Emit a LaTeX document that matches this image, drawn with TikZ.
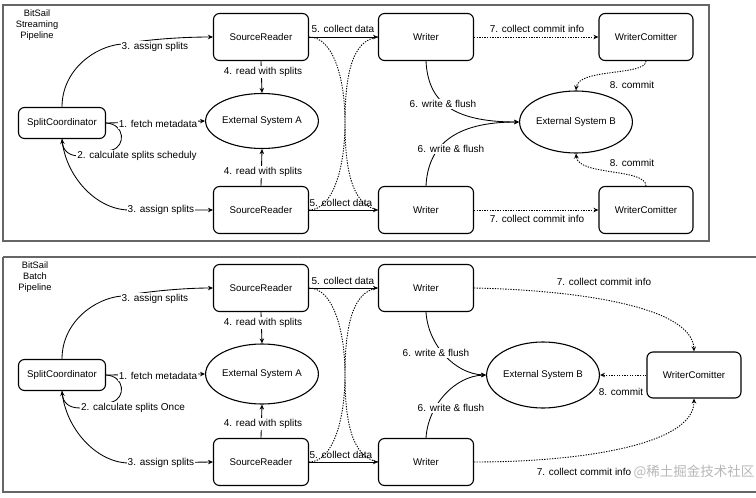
\documentclass[tikz,border=0pt]{standalone}
\usepackage{fontspec}
\setmainfont{Liberation Sans}
\newfontfamily\cjkfont{Noto Sans CJK SC}
\usetikzlibrary{arrows.meta,shapes.geometric}
\begin{document}
\begin{tikzpicture}[x=1pt,y=-1pt,
 box/.style={draw, rounded corners=6pt, line width=1.1pt, minimum width=95pt, minimum height=47pt, inner sep=0pt, font=\fontsize{9.7}{11}\selectfont},
 ell/.style={draw, ellipse, line width=1.1pt, inner sep=0pt, font=\fontsize{9.7}{11}\selectfont},
 lbl/.style={fill=white, inner sep=1pt, font=\fontsize{10}{11}\selectfont},
 ttl/.style={align=center, inner sep=0pt, font=\fontsize{9.3}{11}\selectfont},
 arr/.style={line width=0.85pt, -{Stealth[length=5pt,width=4.5pt]}},
 dotl/.style={line width=0.9pt, dash pattern=on 1.3pt off 1.3pt},
 darr/.style={dotl, -{Stealth[length=5pt,width=4.5pt,open]}},
 frame/.style={draw=black!60, line width=1.3pt},
]
\useasboundingbox (0,0) rectangle (756,498);
\fill[white] (0,0) rectangle (756,498);

% ================= top panel =================
\draw[frame] (3,5) rectangle (709,241);
\node[ttl] (t1) at (37,25) {BitSail\\Streaming\\Pipeline};

\node[box] (sr1) at (261,37) {SourceReader};
\node[box] (wr1) at (426,37) {Writer};
\node[box, minimum width=94pt] (wc1) at (646,37) {WriterComitter};
\node[box, minimum width=87pt, minimum height=31pt] (sc1) at (62,123) {SplitCoordinator};
\node[ell, minimum width=97pt, minimum height=55pt] (exa1) at (262,121) {External System A};
\node[ell, minimum width=98pt, minimum height=62pt] (exb1) at (576,122) {External System B};
\node[box] (sr2) at (261,210) {SourceReader};
\node[box] (wr2) at (426,210) {Writer};
\node[box, minimum width=94pt] (wc2) at (646,210) {WriterComitter};

\draw[arr] (sc1.east) -- (exa1.west);
\draw[arr] (sc1.east) .. controls (125,124) and (126,146) .. (112,150) -- (80,156) .. controls (68,156) and (63,150) .. (sc1.south);
\draw[arr] (sc1.north) .. controls (62,70) and (95,46) .. (122,44) .. controls (150,39) and (185,37) .. (sr1.west);
\draw[arr] (sc1.south) .. controls (65,175) and (95,209) .. (128,210) -- (sr2.west);
\draw[arr] (sr1.south) -- (exa1.north);
\draw[arr] (sr2.north) -- (exa1.south);
\draw[arr] (sr1.east) -- (wr1.west);
\draw[arr] (sr2.east) -- (wr2.west);
\draw[dotl] (sr1.east) .. controls (332,37) and (345,75) .. (345,123) .. controls (345,170) and (352,205) .. (wr2.west);
\draw[dotl] (sr2.east) .. controls (332,210) and (345,170) .. (345,123) .. controls (345,75) and (352,40) .. (wr1.west);
\draw[darr] (wr1.east) -- (wc1.west);
\draw[darr] (wr2.east) -- (wc2.west);
\draw[darr] (wc1.south) .. controls (646,76) and (578,68) .. (exb1.north);
\draw[darr] (wc2.north) .. controls (646,168) and (578,176) .. (exb1.south);
\draw[arr] (wr1.south) .. controls (428,100) and (450,122) .. (exb1.west);
\draw[arr] (wr2.north) .. controls (428,145) and (455,122) .. (exb1.west);

\node[lbl] (l1a) at (158,124) {1. fetch metadata};
\node[lbl] (l2a) at (137,156) {2. calculate splits scheduly};
\node[lbl] (l3a) at (155,47) {3. assign splits};
\node[lbl] (l3b) at (161,210) {3. assign splits};
\node[lbl] (l4a) at (263,72) {4. read with splits};
\node[lbl] (l4b) at (263,172) {4. read with splits};
\node[lbl, fill=none] (l5a) at (343,29) {5. collect data};
\node[lbl, fill=none] (l5b) at (341,203) {5. collect data};
\node[lbl, fill=none] (l7a) at (537,29) {7. collect commit info};
\node[lbl, fill=none] (l7b) at (537,219) {7. collect commit info};
\node[lbl] (l8a) at (632,85) {8. commit};
\node[lbl] (l8b) at (632,163) {8. commit};
\node[lbl] (l6a) at (443,104) {6. write \& flush};
\node[lbl] (l6b) at (451,149) {6. write \& flush};

% ================= bottom panel =================
\draw[frame] (3,257) -- (762,257) (3,257) -- (3,492) -- (762,492);
\node[ttl] (t2) at (35,277) {BitSail\\Batch\\Pipeline};

\node[box] (sr3) at (261,288) {SourceReader};
\node[box] (wr3) at (426,288) {Writer};
\node[box, minimum width=87pt, minimum height=31pt] (sc3) at (62,375) {SplitCoordinator};
\node[ell, minimum width=97pt, minimum height=60pt] (exa3) at (262,374) {External System A};
\node[ell, minimum width=93pt, minimum height=66pt] (exb3) at (543,375) {External System B};
\node[box, minimum width=94pt, minimum height=46pt] (wc3) at (694,375) {WriterComitter};
\node[box] (sr4) at (261,462) {SourceReader};
\node[box] (wr4) at (426,462) {Writer};

\draw[arr] (sc3.east) -- (exa3.west);
\draw[arr] (sc3.east) .. controls (125,376) and (126,398) .. (112,402) -- (80,408) .. controls (68,408) and (63,402) .. (sc3.south);
\draw[arr] (sc3.north) .. controls (62,322) and (95,298) .. (122,296) .. controls (150,291) and (185,288) .. (sr3.west);
\draw[arr] (sc3.south) .. controls (65,427) and (95,462) .. (128,463) -- (sr4.west);
\draw[arr] (sr3.south) -- (exa3.north);
\draw[arr] (sr4.north) -- (exa3.south);
\draw[arr] (sr3.east) -- (wr3.west);
\draw[arr] (sr4.east) -- (wr4.west);
\draw[dotl] (sr3.east) .. controls (332,288) and (345,328) .. (345,375) .. controls (345,422) and (352,457) .. (wr4.west);
\draw[dotl] (sr4.east) .. controls (332,462) and (345,422) .. (345,375) .. controls (345,328) and (352,291) .. (wr3.west);
\draw[arr] (wr3.south) .. controls (428,345) and (455,374) .. (exb3.west);
\draw[arr] (wr4.north) .. controls (428,405) and (455,376) .. (exb3.west);
\draw[darr] (wr3.east) .. controls (570,290) and (692,305) .. (wc3.north);
\draw[darr] (wr4.east) .. controls (580,462) and (694,445) .. (wc3.south);
\draw[darr] (wc3.west) -- (exb3.east);

\node[lbl] (l1c) at (158,376) {1. fetch metadata};
\node[lbl] (l2c) at (133,408) {2. calculate splits Once};
\node[lbl] (l3c) at (155,299) {3. assign splits};
\node[lbl] (l3d) at (161,463) {3. assign splits};
\node[lbl] (l4c) at (263,323) {4. read with splits};
\node[lbl] (l4d) at (263,424) {4. read with splits};
\node[lbl, fill=none] (l5c) at (343,281) {5. collect data};
\node[lbl, fill=none] (l5d) at (341,455) {5. collect data};
\node[lbl] (l6c) at (436,353) {6. write \& flush};
\node[lbl] (l6d) at (451,408) {6. write \& flush};
\node[lbl, fill=none] (l7c) at (604,282) {7. collect commit info};
\node[lbl, fill=none] (l7d) at (584,472) {7. collect commit info};
\node[lbl, fill=none] (l8c) at (621,392) {8. commit};

\node[inner sep=0pt, text=black!35, opacity=0.8, font=\cjkfont\fontsize{13.5}{16}\selectfont] (wm) at (694,472) {@稀土掘金技术社区};
\end{tikzpicture}
\end{document}
